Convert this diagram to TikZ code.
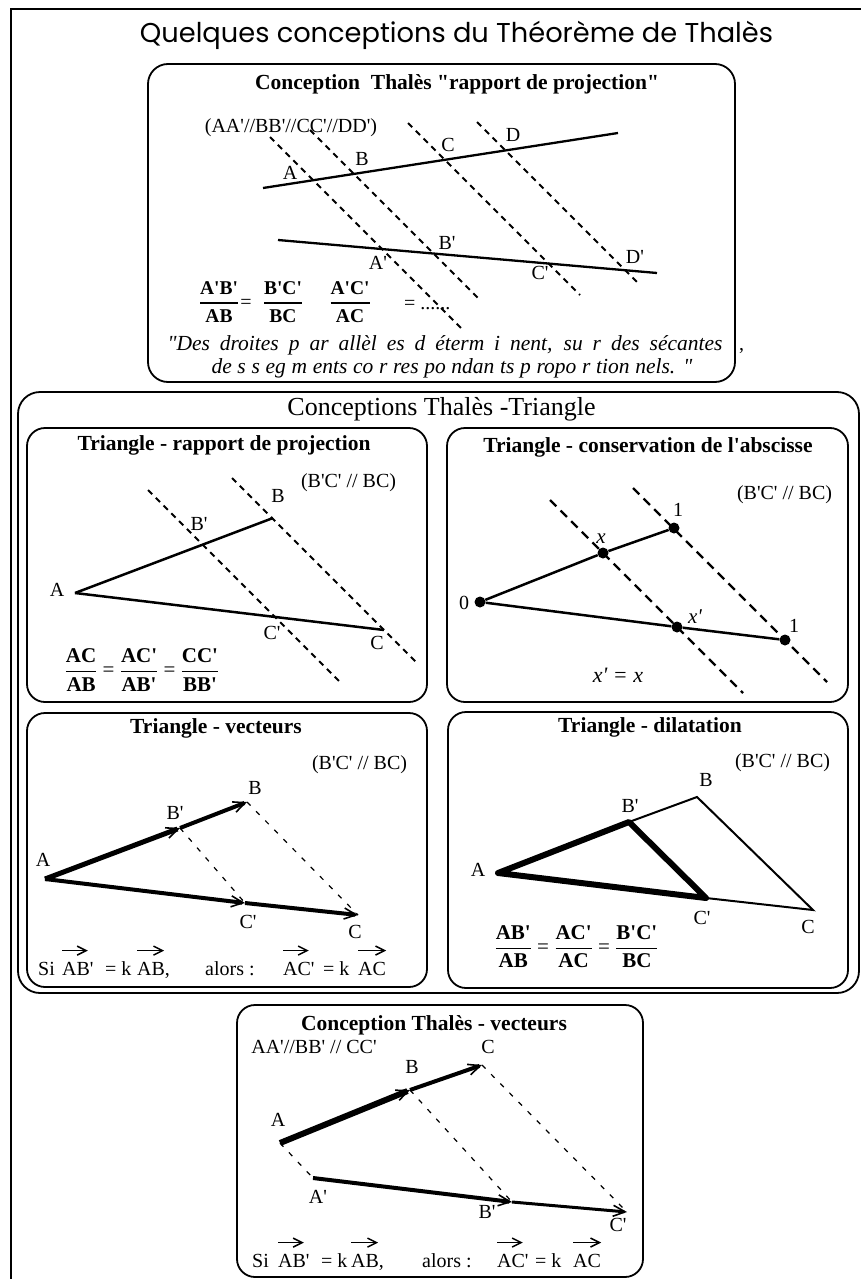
\documentclass[tikz,border=0pt]{standalone}
\usepackage{amsmath}
\usepackage{graphicx}
\usepackage{fontspec}
\setmainfont{Liberation Serif}[Ligatures=TeXOff]
\newfontfamily\titlefont{Poppins}
\usetikzlibrary{arrows.meta}
\newcommand\fr[2]{\ensuremath{\genfrac{}{}{1.3pt}{0}{\mbox{\bfseries #1}}{\mbox{\bfseries #2}}}}
\begin{document}
\begin{tikzpicture}[x=1pt,y=-1pt,
  frameline/.style={line width=1.4pt},
  rbox/.style={draw, line width=1.8pt, rounded corners=18pt},
  ttl/.style={font=\fontsize{21.5}{24}\selectfont\bfseries, inner sep=0pt, anchor=base},
  lbl/.style={font=\fontsize{20}{22}\selectfont, inner sep=0pt},
  txt/.style={font=\fontsize{20}{22}\selectfont, inner sep=0pt, anchor=base west},
  frac/.style={font=\fontsize{21}{24}\selectfont, inner sep=0pt},
  dsh/.style={line width=2pt, dash pattern=on 6pt off 5pt},
  dshl/.style={line width=2.3pt, dash pattern=on 9pt off 6pt},
  dsht/.style={line width=1.2pt, dash pattern=on 5pt off 8pt},
  seg/.style={line width=2.5pt},
  vec/.style={-{Straight Barb[length=12pt,width=11pt,line width=1.6pt]}},
  vsm/.style={line width=1.5pt, -{Straight Barb[length=9pt,width=9pt,line width=1.5pt]}},
  dot/.style={circle, fill, inner sep=0pt, minimum size=11pt}]
\useasboundingbox (0,0) rectangle (861,1279);
\fill[white] (0,0) rectangle (861,1279);
% outer frame
\draw[frameline] (11,1290) -- (11,9) -- (870,9);
\node[font=\titlefont\fontsize{26}{30}\selectfont, inner sep=0pt, anchor=base] (title) at (456.5,43)
  {\resizebox{633pt}{!}{Quelques conceptions du Théorème de Thalès}};

% ---------- box 1 ----------
\draw[rbox, rounded corners=20pt] (148,64) rectangle (735,382);
\node[ttl] (t1) at (457,90) {Conception\ \ Thalès "rapport de projection"};
\node[lbl, anchor=base] (par1) at (291,132) {(AA'//BB'//CC'//DD')};
\coordinate (u1) at (263,188); \coordinate (u2) at (618,133);
\coordinate (l1) at (278,240); \coordinate (l2) at (657,273);
\draw[line width=2.3pt] (u1) -- (u2);
\draw[line width=2.3pt] (l1) -- (l2);
\coordinate (da1) at (270,137); \coordinate (da2) at (463,330);
\coordinate (db1) at (310,130); \coordinate (db2) at (480,300);
\coordinate (dc1) at (408,123); \coordinate (dc2) at (580,295);
\coordinate (dd1) at (477,122); \coordinate (dd2) at (640,285);
\draw[dsh] (da1) -- (da2);
\draw[dsh] (db1) -- (db2);
\draw[dsh] (dc1) -- (dc2);
\draw[dsh] (dd1) -- (dd2);
\node[lbl] (pA) at (290,173) {A};
\node[lbl] (pB) at (362,159) {B};
\node[lbl] (pC) at (448,145) {C};
\node[lbl] (pD) at (513,135) {D};
\node[lbl] (pAp) at (378,263) {A'};
\node[lbl] (pBp) at (447,243) {B'};
\node[lbl] (pCp) at (540,273) {C'};
\node[lbl] (pDp) at (635,257) {D'};
\node[frac, font=\fontsize{19.5}{22}\selectfont] (f1) at (219,302) {\fr{A'B'}{AB}};
\node[lbl] (e1) at (246,304) {=};
\node[frac, font=\fontsize{19.5}{22}\selectfont] (f2) at (283,302) {\fr{B'C'}{BC}};
\node[frac, font=\fontsize{19.5}{22}\selectfont] (f3) at (350,302) {\fr{A'C'}{AC}};
\node[txt] (e2) at (404,309) {= ......};
\node[font=\fontsize{21.5}{24}\selectfont\itshape, inner sep=0pt, anchor=base] (q1) at (445,350)
  {\makebox[555pt][s]{"Des droites p ar allèl es d éterm i nent, su r des sécantes}};
\node[font=\fontsize{21.5}{24}\selectfont\itshape, inner sep=0pt, anchor=base] (q2) at (452,373)
  {\makebox[481pt][s]{de s s eg m ents co r res po ndan ts p ropo r tion nels. "}};
\node[txt] (qc) at (739,350) {,};

% ---------- middle box ----------
\draw[rbox, rounded corners=22pt] (18,392) rectangle (859,993);
\node[font=\fontsize{26}{30}\selectfont, inner sep=0pt, anchor=base] (t2) at (441.5,415) {Conceptions Thalès -Triangle};

% TL
\draw[rbox] (27,428) rectangle (427,702);
\node[ttl] (tl) at (224,450) {Triangle - rapport de projection};
\node[lbl] (tlp) at (348.5,483) {(B'C' // BC)};
\coordinate (tA) at (75,593); \coordinate (tB) at (273,518); \coordinate (tC) at (384,630);
\coordinate (td1) at (148,490); \coordinate (td2) at (340,682);
\coordinate (te1) at (232,478); \coordinate (te2) at (418,664);
\draw[dsh] (td1) -- (td2);
\draw[dsh] (te1) -- (te2);
\draw[seg] (tA) -- (tB);
\draw[seg] (tA) -- (tC);
\node[lbl] (tlA) at (57,590) {A};
\node[lbl] (tlB) at (278,496) {B};
\node[lbl] (tlBp) at (199,524) {B'};
\node[lbl] (tlC) at (377,643) {C};
\node[lbl] (tlCp) at (272,633) {C'};
\node[frac] (tlf) at (142,670) {\fr{AC}{AB} = \fr{AC'}{AB'} = \fr{CC'}{BB'}};

% TR
\draw[rbox] (447,428) rectangle (848,702);
\node[ttl] (tr) at (648,452) {Triangle - conservation de l'abscisse};
\node[lbl] (trp) at (784.5,495) {(B'C' // BC)};
\coordinate (rd1) at (550,500); \coordinate (rd2) at (743,693);
\coordinate (re1) at (633,488); \coordinate (re2) at (827,682);
\draw[dshl] (rd1) -- (rd2);
\draw[dshl] (re1) -- (re2);
\node[dot] (O) at (480,602) {};
\node[dot] (U1) at (674,528) {};
\node[dot] (X) at (603,553) {};
\node[dot] (X2) at (677,627) {};
\node[dot] (L1) at (785,640) {};
\draw[seg] (O) -- (X) -- (U1);
\draw[seg] (O) -- (X2) -- (L1);
\node[lbl] (tr0) at (464,603) {0};
\node[lbl] (tr1) at (678,510) {1};
\node[lbl, font=\fontsize{21}{22}\selectfont\itshape] (trx) at (601,539) {x};
\node[lbl, font=\fontsize{21}{22}\selectfont\itshape] (trxp) at (695,617) {x'};
\node[lbl] (tr1b) at (794,626) {1};
\node[lbl, font=\fontsize{22}{24}\selectfont\itshape] (treq) at (618,675) {x' = x};

% BL
\draw[rbox] (27,713) rectangle (427,987);
\node[ttl] (bl) at (216,733) {Triangle - vecteurs};
\node[lbl] (blp) at (359.5,765) {(B'C' // BC)};
\coordinate (bA) at (45,879); \coordinate (bB) at (247,802); \coordinate (bBp) at (180,828);
\coordinate (bC) at (358,915); \coordinate (bCp) at (245,903);
\draw[dsht] (bBp) -- (bCp);
\draw[dsht] (bB) -- (bC);
\draw[line width=5pt, vec] (bA) -- (bBp);
\draw[line width=4pt, vec] (bBp) -- (bB);
\draw[line width=4pt, vec] (bA) -- (bCp);
\draw[line width=4pt, vec] (bCp) -- (bC);
\node[lbl] (blA) at (43,860) {A};
\node[lbl] (blB) at (255,788) {B};
\node[lbl] (blBp) at (175,813) {B'};
\node[lbl] (blC) at (355,932) {C};
\node[lbl] (blCp) at (248,922) {C'};
\node[txt] (bls1) at (38,975) {Si};
\node[txt] (bls2) at (62,975) {AB'};
\node[txt] (bls3) at (105,975) {= k};
\node[txt] (bls4) at (137,975) {AB,};
\node[txt] (bls5) at (205,975) {alors :};
\node[txt] (bls6) at (283,975) {AC'};
\node[txt] (bls7) at (323,975) {= k};
\node[txt] (bls8) at (358,975) {AC};
\draw[vsm] ([yshift=11pt]bls2.north west) -- ([yshift=11pt,xshift=-6pt]bls2.north east);
\draw[vsm] ([yshift=11pt]bls4.north west) -- ([yshift=11pt,xshift=-6pt]bls4.north east);
\draw[vsm] ([yshift=11pt]bls6.north west) -- ([yshift=11pt,xshift=-6pt]bls6.north east);
\draw[vsm] ([yshift=11pt]bls8.north west) -- ([yshift=11pt]bls8.north east);

% BR
\draw[rbox] (448,712) rectangle (848,988);
\node[ttl] (br) at (650,732) {Triangle - dilatation};
\node[lbl] (brp) at (782.5,763) {(B'C' // BC)};
\coordinate (rA) at (498,873); \coordinate (rB) at (697,797); \coordinate (rBp) at (629,822);
\coordinate (rC) at (813,910); \coordinate (rCp) at (706,898);
\draw[line width=2pt] (rBp) -- (rB) -- (rC) -- (rCp);
\draw[line width=6pt, line join=round] (rA) -- (rBp) -- (rCp) -- cycle;
\node[lbl] (brA) at (478,870) {A};
\node[lbl] (brB) at (706,780) {B};
\node[lbl] (brBp) at (630,806) {B'};
\node[lbl] (brC) at (808,927) {C};
\node[lbl] (brCp) at (702,918) {C'};
\node[frac] (brf) at (576.5,947) {\fr{AB'}{AB} = \fr{AC'}{AC} = \fr{B'C'}{BC}};

% ---------- bottom box ----------
\draw[rbox] (237,1005) rectangle (643,1277);
\node[ttl] (t3) at (434,1030) {Conception Thalès - vecteurs};
\node[lbl, anchor=base] (par3) at (314,1053) {AA'//BB' // CC'};
\coordinate (vA) at (280,1143); \coordinate (vB) at (410,1090); \coordinate (vC) at (482,1065);
\coordinate (vAp) at (313,1178); \coordinate (vBp) at (512,1202); \coordinate (vCp) at (627,1212);
\draw[dsht] (vA) -- (vAp);
\draw[dsht] (vB) -- (vBp);
\draw[dsht] (vC) -- (vCp);
\draw[line width=6pt, vec] (vA) -- (vB);
\draw[line width=4pt, vec] (vB) -- (vC);
\draw[line width=4pt, vec] (vAp) -- (vBp);
\draw[line width=3pt, vec] (vBp) -- (vCp);
\node[lbl] (vlA) at (278,1120) {A};
\node[lbl] (vlB) at (412,1067) {B};
\node[lbl] (vlC) at (488,1047) {C};
\node[lbl] (vlAp) at (318,1197) {A'};
\node[lbl] (vlBp) at (487,1212) {B'};
\node[lbl] (vlCp) at (618,1225) {C'};
\node[txt] (vs1) at (252,1267) {Si};
\node[txt] (vs2) at (278,1267) {AB'};
\node[txt] (vs3) at (321,1267) {= k};
\node[txt] (vs4) at (351,1267) {AB,};
\node[txt] (vs5) at (422,1267) {alors :};
\node[txt] (vs6) at (497,1267) {AC'};
\node[txt] (vs7) at (535,1267) {= k};
\node[txt] (vs8) at (573,1267) {AC};
\draw[vsm] ([yshift=11pt]vs2.north west) -- ([yshift=11pt,xshift=-6pt]vs2.north east);
\draw[vsm] ([yshift=11pt]vs4.north west) -- ([yshift=11pt,xshift=-6pt]vs4.north east);
\draw[vsm] ([yshift=11pt]vs6.north west) -- ([yshift=11pt,xshift=-6pt]vs6.north east);
\draw[vsm] ([yshift=11pt]vs8.north west) -- ([yshift=11pt]vs8.north east);
\end{tikzpicture}
\end{document}
